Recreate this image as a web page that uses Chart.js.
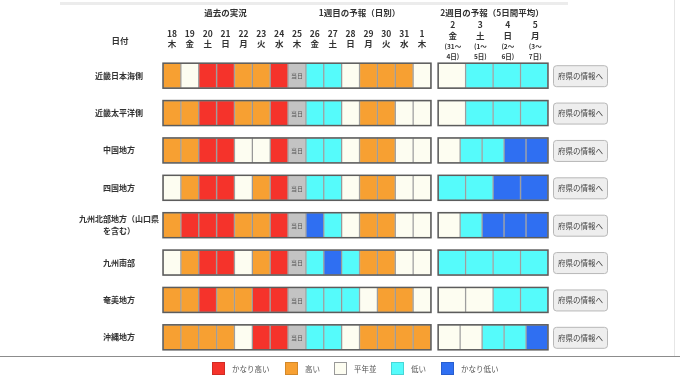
<!DOCTYPE html>
<html><head><meta charset="utf-8">
<script src="https://cdn.jsdelivr.net/npm/chart.js@4/dist/chart.umd.min.js"></script>
<style>
html,body{margin:0;padding:0;background:#fff;}
#wrap{position:relative;width:680px;height:382px;overflow:hidden;}
#topline{position:absolute;left:60px;top:2px;width:508px;height:3px;background:#ececec;}
#rightline{position:absolute;left:674px;top:0;width:1px;height:356px;background:#e6e6e6;}
#bottomline{position:absolute;left:0;top:356px;width:680px;height:1px;background:#8c8c8c;}
canvas{position:absolute;left:0;top:0;}
</style></head><body>
<div id="wrap">
<div id="topline"></div><div id="rightline"></div><div id="bottomline"></div>
<canvas id="c" width="680" height="382"></canvas>
</div>
<script>
// ---- data ----
const regions = ['近畿日本海側','近畿太平洋側','中国地方','四国地方',['九州北部地方（山口県','を含む）'],'九州南部','奄美地方','沖縄地方'];
const dayNumbers = ['18','19','20','21','22','23','24','25','26','27','28','29','30','31','1'];
const dayWeekdays = ['木','金','土','日','月','火','水','木','金','土','日','月','火','水','木'];
const week2Numbers = ['2','3','4','5'];
const week2Weekdays = ['金','土','日','月'];
const week2RangeFrom = ['(31～','(1～','(2～','(3～'];
const week2RangeTo = ['4日)','5日)','6日)','7日)'];
const groupTitles = ['過去の実況','1週目の予報（日別）','2週目の予報（5日間平均）'];
const classNames = ['かなり高い','高い','平年並','低い','かなり低い'];
const classColors = ['#f5332b','#f7a032','#fdfdf1','#55fbfb','#2f6ff2'];
const todayColor = '#c3c3c3';
const TODAY = 5; // code for 当日 cell; 0..4 = classNames
// daily classes, 18th .. 1st
const dailyKinkiJapanSea = [1,2,0,0,1,1,0,5,3,3,2,1,1,1,2];
const dailyKinkiPacific  = [1,1,0,0,1,1,0,5,3,3,2,1,1,2,2];
const dailyChugoku       = [1,1,0,0,2,2,0,5,3,3,2,1,1,2,2];
const dailyShikoku       = [2,1,0,0,2,1,0,5,3,3,2,1,1,2,2];
const dailyKyushuNorth   = [1,0,0,0,1,1,0,5,4,3,2,1,1,2,2];
const dailyKyushuSouth   = [2,1,0,0,2,1,0,5,3,4,3,1,1,2,2];
const dailyAmami         = [1,1,0,1,1,0,0,5,3,3,3,2,1,1,2];
const dailyOkinawa       = [1,1,1,1,2,0,0,5,3,3,2,1,1,1,1];
// second week classes (segments as drawn)
const week2KinkiJapanSea = [2,3,3,3];
const week2KinkiPacific  = [2,3,3,3];
const week2Chugoku       = [2,3,3,4,4];
const week2Shikoku       = [3,3,4,4];
const week2KyushuNorth   = [2,3,4,4,4];
const week2KyushuSouth   = [3,3,3,3];
const week2Amami         = [2,2,3,3];
const week2Okinawa       = [2,2,3,3,4];
const buttonLabel = '府県の情報へ';
const todayLabel = '当日';
const headerLabel = '日付';

// ---- layout constants ----
const dailyRows = [dailyKinkiJapanSea,dailyKinkiPacific,dailyChugoku,dailyShikoku,dailyKyushuNorth,dailyKyushuSouth,dailyAmami,dailyOkinawa];
const week2Rows = [week2KinkiJapanSea,week2KinkiPacific,week2Chugoku,week2Shikoku,week2KyushuNorth,week2KyushuSouth,week2Amami,week2Okinawa];
const DAYS = dayNumbers.length;
const W2_START = DAYS + 0.4;
const W2_END = W2_START + 6.15;
const W2_W = W2_END - W2_START;
const BAR = 25;
const FONT = "'Noto Sans CJK JP','Noto Sans',sans-serif";
const colorOf = c => c === TODAY ? todayColor : classColors[c];

const datasets = [];
for (let d = 0; d < DAYS; d++) {
  datasets.push({
    data: dailyRows.map(() => [d, d + 1]),
    backgroundColor: dailyRows.map(r => colorOf(r[d]))
  });
}
const maxSlots = Math.max(...week2Rows.map(r => r.length));
for (let s = 0; s < maxSlots; s++) {
  datasets.push({
    data: week2Rows.map(r => s < r.length ? [W2_START + s * W2_W / r.length, W2_START + (s + 1) * W2_W / r.length] : null),
    backgroundColor: week2Rows.map(r => s < r.length ? colorOf(r[s]) : 'rgba(0,0,0,0)')
  });
}
datasets.forEach(ds => Object.assign(ds, {
  grouped: false, barThickness: BAR, borderWidth: 1,
  borderColor: 'rgba(70,70,70,0.45)', borderSkipped: false
}));

function txt(ctx, s, x, y, size, weight, color, align) {
  ctx.font = `${weight} ${size}px ${FONT}`;
  ctx.fillStyle = color;
  ctx.textAlign = align || 'center';
  ctx.textBaseline = 'middle';
  ctx.fillText(s, x, y);
}

const overlay = {
  id: 'overlay',
  afterDatasetsDraw(chart) {
    const {ctx, scales: {x, y}} = chart;
    ctx.save();
    const x0 = x.getPixelForValue(0), x1 = x.getPixelForValue(DAYS);
    const w0 = x.getPixelForValue(W2_START), w1 = x.getPixelForValue(W2_END);
    regions.forEach((r, i) => {
      const cy = y.getPixelForValue(i);
      const top = cy - BAR / 2;
      ctx.strokeStyle = '#5c5c5c'; ctx.lineWidth = 1.5;
      ctx.strokeRect(x0, top, x1 - x0, BAR);
      ctx.strokeRect(w0, top, w1 - w0, BAR);
      const t = dailyRows[i].indexOf(TODAY);
      if (t >= 0) txt(ctx, todayLabel, x.getPixelForValue(t + 0.5), cy + 0.5, 6, 'normal', '#555');
      // button
      const bx = w1 + 5, bw = 54, bh = 21, by = cy - bh / 2;
      ctx.beginPath();
      ctx.roundRect(bx + 0.5, by + 0.5, bw, bh, 3);
      ctx.fillStyle = '#eeeeee'; ctx.fill();
      ctx.strokeStyle = '#b8b8b8'; ctx.lineWidth = 1; ctx.stroke();
      txt(ctx, buttonLabel, bx + bw / 2 + 0.5, cy + 0.5, 7.5, 'normal', '#444');
    });
    // headers
    const hc = '#333';
    txt(ctx, headerLabel, 120, 41, 8.5, 'bold', hc);
    txt(ctx, groupTitles[0], (x.getPixelForValue(0) + x.getPixelForValue(7)) / 2, 13, 8.5, 'bold', hc);
    txt(ctx, groupTitles[1], (x.getPixelForValue(7) + x.getPixelForValue(DAYS)) / 2, 13, 8.5, 'bold', hc);
    txt(ctx, groupTitles[2], w0 + 2, 13, 8.5, 'bold', hc, 'left');
    dayNumbers.forEach((d, k) => {
      const cx = x.getPixelForValue(k + 0.5);
      txt(ctx, d, cx, 34, 8.5, 'bold', hc);
      txt(ctx, dayWeekdays[k], cx, 44, 8.5, 'bold', hc);
    });
    week2Numbers.forEach((d, k) => {
      const cx = x.getPixelForValue(W2_START + (k + 0.5) * W2_W / week2Numbers.length) + 1;
      txt(ctx, d, cx, 25, 8.5, 'bold', hc);
      txt(ctx, week2Weekdays[k], cx, 35.5, 8.5, 'bold', hc);
      txt(ctx, week2RangeFrom[k], cx, 47, 6.5, 'bold', hc);
      txt(ctx, week2RangeTo[k], cx, 57, 6.5, 'bold', hc);
    });
    // legend
    const lx = [212, 285, 334, 391, 441];
    classNames.forEach((n, k) => {
      ctx.fillStyle = classColors[k];
      ctx.fillRect(lx[k], 362, 13, 13);
      ctx.strokeStyle = k === 2 ? '#999' : 'rgba(0,0,0,0.15)'; ctx.lineWidth = 1;
      ctx.strokeRect(lx[k] + 0.5, 362.5, 12, 12);
      txt(ctx, n, lx[k] + 20, 369, 7.5, 'normal', '#555', 'left');
    });
    ctx.restore();
  }
};

new Chart(document.getElementById('c'), {
  type: 'bar',
  data: { labels: regions, datasets },
  options: {
    indexAxis: 'y',
    responsive: false,
    animation: false,
    events: [],
    layout: { padding: { top: 57, bottom: 26, left: 58, right: 132 } },
    scales: {
      x: { type: 'linear', min: 0, max: W2_END, display: false },
      y: {
        type: 'category',
        grid: { display: false }, border: { display: false },
        afterFit: s => { s.width = 105; },
        ticks: { crossAlign: 'center', padding: -4, color: '#333',
                 font: { family: FONT, size: 8, weight: 'bold', lineHeight: 1.5 } }
      }
    },
    plugins: { legend: { display: false }, tooltip: { enabled: false } }
  },
  plugins: [overlay]
});
</script>
</body></html>
